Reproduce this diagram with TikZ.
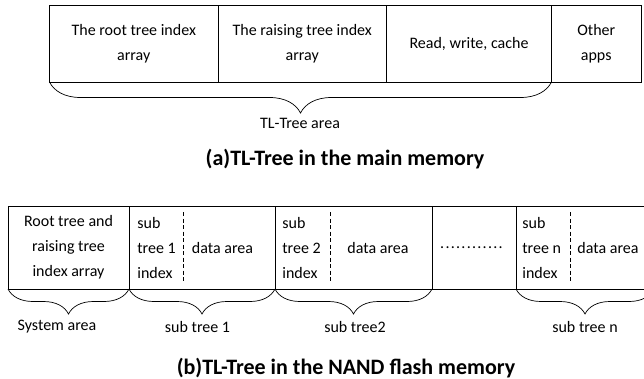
\documentclass[tikz,border=0pt]{standalone}
\usepackage{fontspec}
\setmainfont{Carlito}
\newfontfamily\dotfont[LetterSpace=8]{Carlito}
\usetikzlibrary{decorations.pathreplacing}
\tikzstyle{cell}=[
    draw,
    rectangle,
    inner sep=0pt,
    outer sep=0pt,
    align=center,
    font=\fontsize{16}{25}\selectfont
]
\tikzstyle{txt}=[
    inner sep=0pt,
    align=left,
    font=\fontsize{16}{25}\selectfont
]
\tikzstyle{caption}=[
    inner sep=0pt,
    font=\fontsize{22}{26}\selectfont\bfseries
]
\tikzstyle{under}=[
    decorate,
    decoration={brace, mirror, amplitude=#1}
]
\tikzstyle{split}=[
    dash pattern=on 4pt off 2.5pt
]

\begin{document}
\begin{tikzpicture}[x=1pt, y=-1pt, line width=0.7pt]
        \useasboundingbox (0,0) rectangle (644,379);

        % main memory
        \node[cell, minimum width=168.5, minimum height=77] (troot) at (133.75,43.5) {The root tree index\\array};
        \node[cell, minimum width=168.5, minimum height=77] (traise) at (302.25,43.5) {The raising tree index\\array};
        \node[cell, minimum width=165, minimum height=77] (trw) at (469,43.5) {Read, write, cache};
        \node[cell, minimum width=89.5, minimum height=77] (tother) at (596.25,43.5) {Other\\apps};

        \draw[under=31] (troot.south west) -- (trw.south east);
        \node[txt] (tarea) at (300,123) {TL-Tree area};

        \node[caption] (capa) at (345,159) {(a)TL-Tree in the main memory};

        % NAND flash
        \node[cell, minimum width=121, minimum height=83] (sys) at (68.5,247.5) {Root tree and\\raising tree\\index array};
        \node[cell, minimum width=146, minimum height=83] (sub1) at (202,247.5) {};
        \node[cell, minimum width=157, minimum height=83] (sub2) at (353.5,247.5) {};
        \node[cell, minimum width=84, minimum height=83] (gap) at (474,247.5) {};
        \node[inner sep=0pt, outer sep=0pt, minimum width=138, minimum height=83] (subn) at (585,247.5) {};
        \draw (subn.north west) -- (subn.north east);
        \draw (subn.south west) -- (subn.south east);

        \draw[split] (183,212) -- (183,283);
        \draw[split] (330,212) -- (330,283);
        \draw[split] (570,212) -- (570,283);

        \node[txt, anchor=west] (idx1) at (137,248) {sub\\tree 1\\index};
        \node[txt, anchor=west] (idx2) at (282,248) {sub\\tree 2\\index};
        \node[txt, anchor=west] (idxn) at (522,248) {sub\\tree n\\index};

        \node[txt] (data1) at (222.5,248) {data area};
        \node[txt] (data2) at (378,248) {data area};
        \node[txt] (datan) at (608,248) {data area};
        \node[txt, font=\fontsize{16}{25}\dotfont] (dots) at (471.5,248) {............};

        \draw[under=25] (sys.south west) -- (sys.south east);
        \draw[under=25] (sub1.south west) -- (sub1.south east);
        \draw[under=25] (sub2.south west) -- (sub2.south east);
        \draw[under=25] (subn.south west) -- (subn.south east);

        \node[txt] (lsys) at (57,327) {System area};
        \node[txt] (lsub1) at (197.5,327) {sub tree 1};
        \node[txt] (lsub2) at (355,327) {sub tree2};
        \node[txt] (lsubn) at (585,327) {sub tree n};

        \node[caption] (capb) at (346,368) {(b)TL-Tree in the NAND flash memory};

    \end{tikzpicture}
\end{document}
